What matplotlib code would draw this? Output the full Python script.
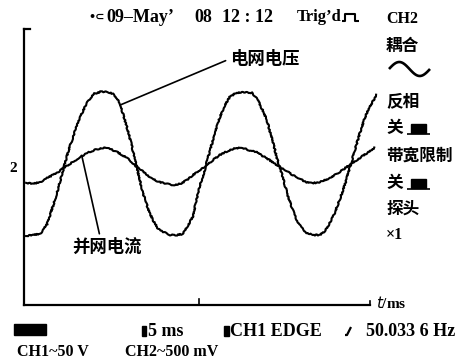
import numpy as np
import matplotlib
matplotlib.use("Agg")
import matplotlib.pyplot as plt
from matplotlib.lines import Line2D
from matplotlib.patches import Rectangle

# --- scope traces (time in ms, level in divisions) ---
volt_t = [0.3, 1.3, 2.3, 3.3, 4.1, 4.9, 5.6, 6.3, 7.0, 8.0, 9.0, 9.9, 10.9, 12.0,
          12.7, 13.7, 14.7, 15.3, 15.9, 16.4, 17.0, 17.7, 18.4, 19.1, 19.9, 20.9,
          21.9, 22.7, 23.4, 24.1, 25.1, 25.9, 26.6, 27.3, 28.0, 28.7, 29.4, 30.3,
          31.3, 32.6, 33.4, 34.1, 34.7, 35.1, 35.7, 36.1, 36.9, 37.6, 38.3, 39.0,
          39.7, 40.4, 41.3, 42.3, 43.0, 43.7, 44.4, 45.1, 45.9, 46.6, 47.3, 48.0,
          48.7, 49.4, 50.4]
volt_v = [1.97, 2.00, 2.03, 2.31, 2.80, 3.34, 3.86, 4.37, 4.80, 5.37, 5.77, 6.03, 6.09,
          6.09, 6.03, 5.77, 5.09, 4.63, 4.14, 3.69, 3.20, 2.77, 2.43, 2.20, 2.09, 2.00,
          2.00, 2.03, 2.26, 2.51, 3.37, 3.91, 4.43, 4.91, 5.37, 5.71, 5.94, 6.06, 6.09,
          6.06, 5.86, 5.57, 5.29, 5.00, 4.57, 4.23, 3.71, 3.20, 2.77, 2.43, 2.20, 2.06,
          2.00, 2.00, 2.11, 2.34, 2.63, 3.00, 3.46, 3.94, 4.43, 4.91, 5.34, 5.66, 6.00]

curr_t = [0.3, 1.3, 2.3, 3.3, 4.1, 4.9, 5.6, 6.3, 7.0, 8.0, 9.0, 10.1, 11.3, 12.3,
          13.3, 14.0, 14.7, 15.4, 16.1, 16.9, 17.6, 18.4, 19.4, 20.4, 21.3, 22.3,
          23.3, 24.1, 25.1, 26.1, 27.0, 28.0, 29.1, 30.4, 31.6, 32.6, 33.3, 34.1,
          35.1, 35.9, 36.6, 37.6, 38.4, 39.4, 40.4, 41.1, 41.9, 42.7, 43.7, 44.9,
          46.1, 47.0, 48.0, 49.0, 50.1]
curr_v = [3.49, 3.46, 3.51, 3.63, 3.71, 3.80, 3.91, 4.00, 4.09, 4.23, 4.34, 4.43, 4.49,
          4.46, 4.37, 4.29, 4.20, 4.09, 3.94, 3.83, 3.71, 3.60, 3.51, 3.46, 3.43, 3.46,
          3.57, 3.71, 3.83, 4.00, 4.14, 4.29, 4.40, 4.49, 4.46, 4.40, 4.37, 4.26, 4.14,
          4.03, 3.94, 3.83, 3.71, 3.60, 3.51, 3.49, 3.49, 3.54, 3.63, 3.77, 3.94, 4.06,
          4.20, 4.34, 4.49]

volt_label = "电网电压"
curr_label = "并网电流"
header_parts = ["09\u2013May\u2019", "08", "12 : 12", "Trig\u2019d"]
side_items = ["CH2", "耦合", "反相", "关", "带宽限制", "关", "探头", "×1"]
footer_top = ["5 ms", "CH1 EDGE", "50.033 6 Hz"]
footer_bottom = ["CH1~50 V", "CH2~500 mV"]

W, H = 461, 361
SERIF = ["Liberation Serif", "DejaVu Serif"]
CJK = ["Noto Sans CJK SC", "DejaVu Sans"]


def px(x, y):
    """pixel position (from top-left) -> figure fraction"""
    return x / W, 1 - y / H


def fig_line(xs, ys, lw=1.4):
    fig.add_artist(Line2D([x / W for x in xs], [1 - y / H for y in ys],
                          color="black", lw=lw, solid_capstyle="butt"))


fig = plt.figure(figsize=(W / 100, H / 100), dpi=100)
fig.patch.set_facecolor("white")

# plot box: x=24..378 px, y=305 (bottom) up to ~21 px
ax = fig.add_axes([24 / W, 56 / H, 354 / W, 283.5 / H])
ax.set_xlim(0, 50.6)
ax.set_ylim(0, 8.1)
ax.patch.set_alpha(0)

for t, v in [(volt_t, volt_v), (curr_t, curr_v)]:
    ln, = ax.plot(t, v, color="black", lw=1.5, solid_joinstyle="round")
    ln.set_sketch_params(scale=0.6, length=2.5, randomness=8)

ax.spines["top"].set_visible(False)
ax.spines["right"].set_visible(False)
ax.spines["left"].set_bounds(0, 7.9)
ax.spines["bottom"].set_bounds(0, 49.4)
for s in ("left", "bottom"):
    ax.spines[s].set_linewidth(1.6)
ax.set_xticks([])
ax.set_yticks([])

# small marks on the frame
ax.plot([0, 0.8], [7.9, 7.9], color="black", lw=1.6, clip_on=False)
ax.plot([25, 25], [0, 0.17], color="black", lw=1.2, clip_on=False)
ax.plot([49.4, 49.4], [0, 0.12], color="black", lw=1.2, clip_on=False)

# trace labels with leader lines
ax.annotate(volt_label, xy=(13.7, 5.71), xytext=(29.4, 7.03),
            ha="left", va="center", fontsize=12.5, fontweight="bold", family=CJK,
            arrowprops=dict(arrowstyle="-", lw=1.2, color="black",
                            relpos=(0, 0.5), shrinkA=1, shrinkB=0))
ax.annotate(curr_label, xy=(8.3, 4.23), xytext=(11.9, 1.66),
            ha="center", va="center", fontsize=12.5, fontweight="bold", family=CJK,
            arrowprops=dict(arrowstyle="-", lw=1.2, color="black",
                            relpos=(0.4, 1), shrinkA=1, shrinkB=0))

fig.text(*px(13, 169), "2", ha="center", va="center", fontsize=11,
         fontweight="bold", family=SERIF)
fig.text(*px(376, 303), "$t$/ms", ha="left", va="center", fontsize=11,
         fontweight="bold", family=SERIF)

# header line
fig.text(*px(88, 17), "•⊂", ha="left", va="center", fontsize=8,
         fontweight="bold", family=["DejaVu Sans"])
for label, x, fs in zip(header_parts, [106, 194, 222, 297], [13, 13, 13, 12]):
    fig.text(*px(x, 17), label, ha="left", va="center", fontsize=fs,
             fontweight="bold", family=SERIF)
fig_line([342, 345, 345, 355, 355, 359], [21, 21, 14, 14, 21, 21], lw=1.5)

# right-hand channel menu
side_y = [19, 46, 101, 128, 156, 183, 209, 235]
for label, y in zip(side_items, side_y):
    fam = SERIF if label in ("CH2", "×1") else CJK
    fig.text(*px(386, y), label, ha="left", va="center",
             fontsize=12 if fam == CJK else 11.5, fontweight="bold", family=fam)
# AC coupling icon
wx = np.linspace(389, 430, 40)
fig_line(wx, 69 - 7 * np.sin((wx - 389) / 41 * 2 * np.pi), lw=1.9)
for y in (128, 183):
    fig.add_artist(Rectangle(px(411, y + 5), 15 / W, 9 / H, color="black"))
    fig_line([407, 430], [y + 5.5, y + 5.5], lw=1.2)

# footer
fig.add_artist(Rectangle(px(14, 335), 32 / W, 11 / H, color="black"))
fig.add_artist(Rectangle(px(142, 336), 4 / W, 10 / H, color="black"))
fig.text(*px(148, 331), footer_top[0], ha="left", va="center", fontsize=13,
         fontweight="bold", family=SERIF)
fig.add_artist(Rectangle(px(224, 336), 5 / W, 10 / H, color="black"))
fig.text(*px(230, 331), footer_top[1], ha="left", va="center", fontsize=13,
         fontweight="bold", family=SERIF)
fig_line([345, 347, 351], [335, 335, 327], lw=1.6)
fig.text(*px(366, 331), footer_top[2], ha="left", va="center", fontsize=13,
         fontweight="bold", family=SERIF)
fig.text(*px(17, 352), footer_bottom[0], ha="left", va="center", fontsize=11.5,
         fontweight="bold", family=SERIF)
fig.text(*px(125, 352), footer_bottom[1], ha="left", va="center", fontsize=11.5,
         fontweight="bold", family=SERIF)

fig.savefig("out.png", dpi=100, facecolor="white")
